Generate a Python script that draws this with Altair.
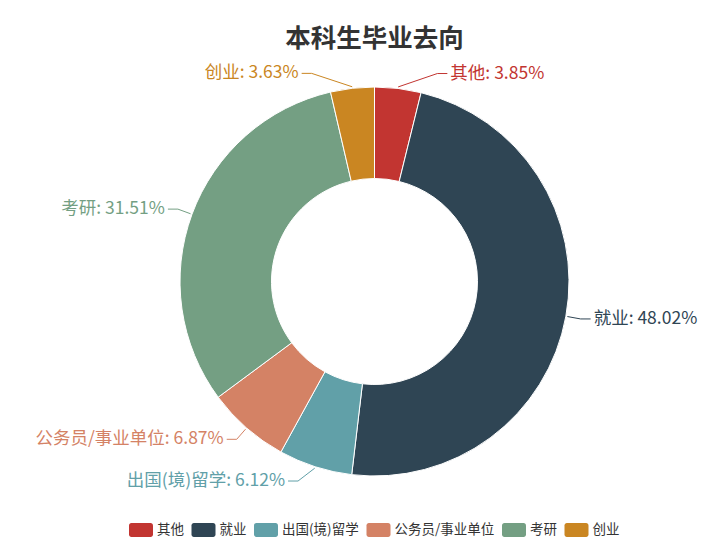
import altair as alt
import pandas as pd

# 本科生毕业去向 (百分比)
categories = ["其他", "就业", "出国(境)留学", "公务员/事业单位", "考研", "创业"]
shares = [3.85, 48.02, 6.12, 6.87, 31.51, 3.63]
colors = ["#c23531", "#2f4554", "#61a0a8", "#d48265", "#749f83", "#ca8622"]

FONT = "Noto Sans CJK SC"
CX, CY = 366.5, 273.5        # centre of the ring inside the view
R_IN, R_OUT = 103, 194.5     # ring radii
R_EDGE, R_ELBOW = 196, 209.5 # leader line radii
LEN2, GAP = 10, 3            # horizontal leg, gap before text

df = pd.DataFrame({"cat": categories, "value": shares, "idx": range(len(categories))})

# rounded rectangle used as the legend swatch
swatch = ("M-0.8,-0.58 L0.8,-0.58 A0.2,0.2 0 0 1 1,-0.38 L1,0.38 "
          "A0.2,0.2 0 0 1 0.8,0.58 L-0.8,0.58 A0.2,0.2 0 0 1 -1,0.38 "
          "L-1,-0.38 A0.2,0.2 0 0 1 -0.8,-0.58 Z")

color = alt.Color(
    "cat:N",
    scale=alt.Scale(domain=categories, range=colors),
    legend=alt.Legend(
        title=None, orient="none", direction="horizontal",
        legendX=121, legendY=510,
        symbolType=swatch, symbolSize=576, symbolStrokeWidth=0,
        labelFont=FONT, labelFontSize=13.5, labelColor="#333",
        labelOffset=4, columnPadding=6.5,
    ),
)

base = alt.Chart(df).transform_window(
    cum="sum(value)", sort=[alt.SortField("idx")], frame=[None, 0]
).transform_joinaggregate(
    total="sum(value)"
).transform_calculate(
    mid="(datum.cum - datum.value / 2) / datum.total * 2 * PI",
    side="sin(datum.mid) >= 0 ? 1 : -1",
).transform_calculate(
    ex=f"{CX} + sin(datum.mid) * {R_EDGE}",
    ey=f"{CY} - cos(datum.mid) * {R_EDGE}",
    # keep labels near the top/bottom away from the vertical axis
    bx=f"{CX} + datum.side * max(abs(sin(datum.mid)) * {R_ELBOW}, "
       f"(cos(datum.mid) > 0 ? 0.3 : 0.365) * {R_ELBOW})",
    by=f"{CY} - cos(datum.mid) * {R_ELBOW}",
    label="datum.cat + ': ' + format(datum.value, '.2f') + '%'",
).transform_calculate(
    tx=f"datum.bx + datum.side * {LEN2}",
).transform_calculate(
    lx=f"datum.tx + datum.side * {GAP}",
)

ring = base.mark_arc(innerRadius=R_IN, outerRadius=R_OUT, stroke="white", strokeWidth=1).encode(
    theta=alt.Theta("value:Q", stack=True),
    order=alt.Order("idx:Q"),
    color=color,
    x=alt.value(CX),
    y=alt.value(CY),
    tooltip=[alt.Tooltip("cat:N", title="去向"), alt.Tooltip("value:Q", title="占比(%)")],
)

px = lambda f: alt.X(f, scale=None, axis=None)
py = lambda f: alt.Y(f, scale=None, axis=None)

leg1 = base.mark_rule(strokeWidth=1).encode(
    x=px("ex:Q"), y=py("ey:Q"), x2="bx:Q", y2="by:Q", color=color
)
leg2 = base.mark_rule(strokeWidth=1).encode(
    x=px("bx:Q"), y=py("by:Q"), x2="tx:Q", y2="by:Q", color=color
)

text_right = base.transform_filter("datum.side > 0").mark_text(
    align="left", baseline="middle", font=FONT, fontSize=17.5
).encode(x=px("lx:Q"), y=py("by:Q"), text="label:N", color=color)

text_left = base.transform_filter("datum.side < 0").mark_text(
    align="right", baseline="middle", font=FONT, fontSize=17.5
).encode(x=px("lx:Q"), y=py("by:Q"), text="label:N", color=color)

chart = alt.layer(ring, leg1, leg2, text_right, text_left).properties(
    width=697, height=533, padding=0, autosize="none",
    title=alt.TitleParams(
        "本科生毕业去向", font=FONT, fontSize=25.5, fontWeight="bold", color="#333",
        anchor="middle", baseline="middle", offset=0, dx=18, dy=56,
    ),
).configure_view(stroke=None)

chart.save("out.html", embed_options={"renderer": "svg", "actions": False})
